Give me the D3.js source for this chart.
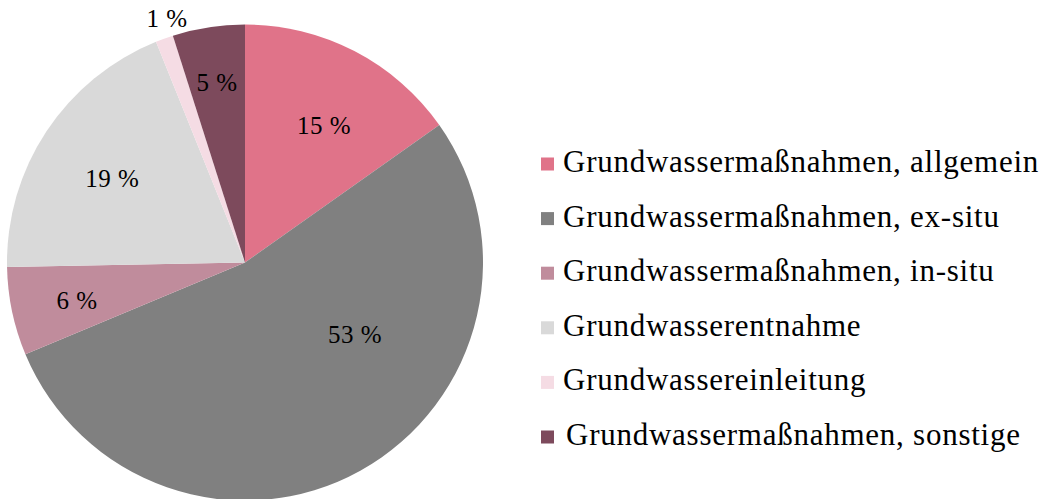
<!DOCTYPE html>
<html>
<head>
<meta charset="utf-8">
<script src="https://cdn.jsdelivr.net/npm/d3@7"></script>
<style>
  html, body { margin: 0; padding: 0; background: #fff; }
  svg { display: block; }
  text { font-family: "Liberation Serif", "DejaVu Serif", serif; fill: #000; }
</style>
</head>
<body>
<svg id="chart" width="1040" height="499"></svg>
<script>
// Data
const categories = [
  "Grundwassermaßnahmen, allgemein",
  "Grundwassermaßnahmen, ex-situ",
  "Grundwassermaßnahmen, in-situ",
  "Grundwasserentnahme",
  "Grundwassereinleitung",
  "Grundwassermaßnahmen, sonstige"
];
const values = [15.2, 53.5, 6.0, 19.2, 1.2, 4.9];
const valueLabels = ["15 %", "53 %", "6 %", "19 %", "1 %", "5 %"];
const colors = ["#E07389", "#808080", "#C08C9C", "#D9D9D9", "#F5DCE4", "#7D4A5C"];
// label placement: radius fraction and angle (degrees clockwise from top)
const labelRadius = [0.664, 0.553, 0.724, 0.66, 1.076, 0.766];
const labelAngle = [30.0, 123.2, 257.3, 302.3, 342.3, 351.2];

const svg = d3.select("#chart");
const cx = 245, cy = 262.5, R = 238;

const pie = d3.pie().sort(null).value(d => d)(values);
const arc = d3.arc().innerRadius(0).outerRadius(R);

const g = svg.append("g").attr("transform", `translate(${cx},${cy})`);
g.selectAll("path.slice")
  .data(pie)
  .join("path")
  .attr("class", "slice")
  .attr("d", arc)
  .attr("fill", (d, i) => colors[i]);

g.selectAll("text.lbl")
  .data(pie)
  .join("text")
  .attr("class", "lbl")
  .attr("x", (d, i) => Math.sin(labelAngle[i] * Math.PI / 180) * labelRadius[i] * R)
  .attr("y", (d, i) => -Math.cos(labelAngle[i] * Math.PI / 180) * labelRadius[i] * R)
  .attr("text-anchor", "middle")
  .attr("dominant-baseline", "central")
  .attr("font-size", 25)
  .attr("letter-spacing", 0.5)
  .text((d, i) => valueLabels[i]);

// Legend
const legendY = d3.scalePoint().domain(d3.range(categories.length)).range([164, 437]);
const lg = svg.append("g");
const rows = lg.selectAll("g.row")
  .data(categories)
  .join("g")
  .attr("class", "row")
  .attr("transform", (d, i) => `translate(541,${legendY(i)})`);
rows.append("rect")
  .attr("x", 0).attr("y", -6.5)
  .attr("width", 13).attr("height", 13)
  .attr("fill", (d, i) => colors[i]);
rows.append("text")
  .attr("x", (d, i) => i === categories.length - 1 ? 25 : 22)
  .attr("y", 8)
  .attr("font-size", 31)
  .attr("letter-spacing", 0.75)
  .text(d => d);
</script>
</body>
</html>
